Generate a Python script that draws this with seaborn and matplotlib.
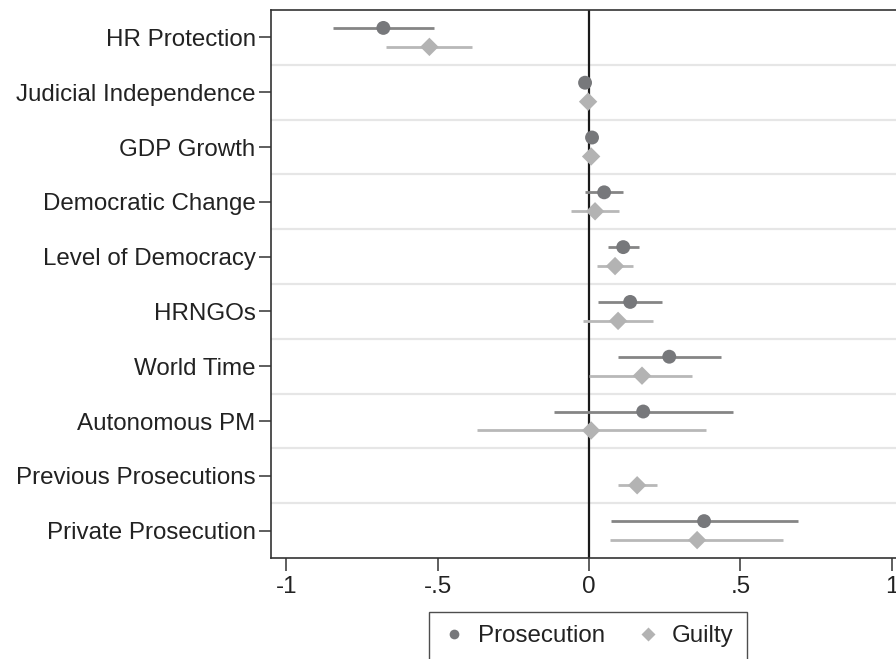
import numpy as np
import matplotlib
matplotlib.use('Agg')
import matplotlib.pyplot as plt
import seaborn as sns
import pandas as pd
from matplotlib.lines import Line2D

# Coefficient estimates and 95% intervals
labels = ['HR Protection', 'Judicial Independence', 'GDP Growth', 'Democratic Change',
          'Level of Democracy', 'HRNGOs', 'World Time', 'Autonomous PM',
          'Previous Prosecutions', 'Private Prosecution']
pros_est = [-0.679, -0.013, 0.010, 0.050, 0.113, 0.136, 0.265, 0.179, np.nan, 0.380]
pros_lo = [-0.844, -0.020, 0.004, -0.013, 0.063, 0.030, 0.096, -0.116, np.nan, 0.073]
pros_hi = [-0.513, -0.006, 0.016, 0.113, 0.166, 0.242, 0.437, 0.474, np.nan, 0.689]
guilty_est = [-0.527, -0.003, 0.007, 0.020, 0.086, 0.096, 0.175, 0.007, 0.159, 0.357]
guilty_lo = [-0.669, -0.008, 0.002, -0.060, 0.026, -0.020, 0.000, -0.371, 0.096, 0.070]
guilty_hi = [-0.387, 0.002, 0.012, 0.100, 0.145, 0.212, 0.341, 0.387, 0.225, 0.639]
xticks = [-1, -0.5, 0, 0.5, 1]
xticklabels = ['-1', '-.5', '0', '.5', '1']

# Style
sns.set_theme(style='white')
plt.rcParams['font.family'] = ['Liberation Sans', 'DejaVu Sans']
txt_color = '#222222'
pros_color = '#77787b'
pros_line = '#858585'
guilty_color = '#b3b3b3'
guilty_line = '#b8b8b8'
fs = 17.4
off = 0.173

fig = plt.figure(figsize=(8.96, 6.59), dpi=100)
ax = fig.add_axes([271 / 896, 1 - 558 / 659, 636 / 896, 548 / 659])

pos = np.arange(len(labels))
df = pd.DataFrame({
    'y': np.concatenate([pos - off, pos + off]),
    'est': pros_est + guilty_est,
    'lo': pros_lo + guilty_lo,
    'hi': pros_hi + guilty_hi,
    'model': ['Prosecution'] * len(labels) + ['Guilty'] * len(labels),
})

# separators between rows
for b in np.arange(0.5, len(labels) - 0.5, 1):
    ax.axhline(b, color='#e6e6e6', lw=1.6, zorder=0)
ax.axvline(0, color='#1a1a1a', lw=1.6, zorder=1)

# confidence intervals
for model, lc in [('Prosecution', pros_line), ('Guilty', guilty_line)]:
    d = df[df['model'] == model].dropna()
    ax.hlines(d['y'], d['lo'], d['hi'], color=lc, lw=2.0, zorder=2)

# point estimates
sns.scatterplot(data=df.dropna(), x='est', y='y', hue='model', style='model',
                markers={'Prosecution': 'o', 'Guilty': 'D'},
                palette={'Prosecution': pros_color, 'Guilty': guilty_color},
                size='model', sizes={'Prosecution': 100, 'Guilty': 88},
                edgecolor='none', legend=False, ax=ax, zorder=3)

ax.set_xlim(-1.05, 1.05)
ax.set_ylim(len(labels) - 0.5, -0.5)
ax.set_yticks(pos)
ax.set_yticklabels(labels)
ax.set_xticks(xticks)
ax.set_xticklabels(xticklabels)
ax.set_xlabel('')
ax.set_ylabel('')
ax.tick_params(axis='both', direction='out', length=9, width=1.1, color='#333333',
               labelsize=fs, labelcolor=txt_color, pad=2, left=True, bottom=True)
ax.tick_params(axis='x', pad=4)
for side in ['left', 'bottom', 'top', 'right']:
    ax.spines[side].set_color('#333333')
    ax.spines[side].set_linewidth(1.2)

handles = [
    Line2D([], [], marker='o', color='none', markerfacecolor=pros_color,
           markeredgecolor='none', markersize=7),
    Line2D([], [], marker='D', color='none', markerfacecolor=guilty_color,
           markeredgecolor='none', markersize=7),
]
leg = fig.legend(handles, ['Prosecution', 'Guilty'], loc='upper center',
                 bbox_to_anchor=(588 / 896, 1 - 600 / 659), ncol=2,
                 fontsize=fs, frameon=True, fancybox=False, edgecolor='#222222',
                 handlelength=1.0, handletextpad=0.5, columnspacing=1.25,
                 borderpad=0.55)
leg.get_frame().set_linewidth(1.0)
for t in leg.get_texts():
    t.set_color(txt_color)

fig.savefig('out.png', dpi=100, facecolor='white')
